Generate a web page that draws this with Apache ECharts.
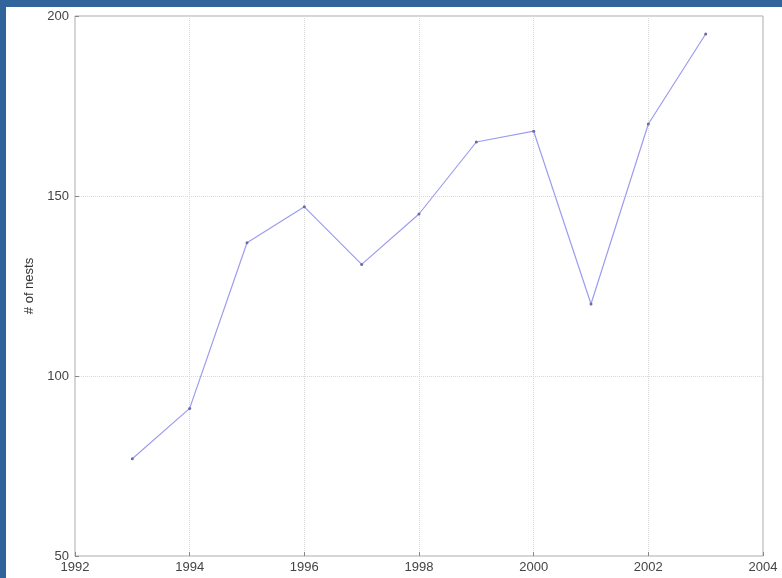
<!DOCTYPE html>
<html>
<head>
<meta charset="utf-8">
<script src="https://cdn.jsdelivr.net/npm/echarts@6/dist/echarts.min.js"></script>
<style>
  html, body { margin: 0; padding: 0; background: #30649a; width: 782px; height: 578px; overflow: hidden; }
  #chart { position: absolute; left: 6px; top: 7px; width: 776px; height: 571px; background: #fff; }
</style>
</head>
<body>
<div id="chart"></div>
<script>
// nests per year
var years = [1993, 1994, 1995, 1996, 1997, 1998, 1999, 2000, 2001, 2002, 2003]
var nests = [77, 91, 137, 147, 131, 145, 165, 168, 120, 170, 195]

var chart = echarts.init(document.getElementById('chart'))

var axisFont = { fontFamily: 'Liberation Sans, Arial', fontSize: 13, color: '#444' }

chart.setOption({
  animation: false,
  grid: {
    left: 69,
    top: 9,
    right: 19,
    bottom: 22,
    show: true,
    borderColor: '#aaa',
    borderWidth: 1
  },
  xAxis: {
    type: 'value',
    min: 1992,
    max: 2004,
    interval: 2,
    axisLine: { show: false },
    axisTick: { show: true, inside: true, length: 4, lineStyle: { color: '#888' } },
    axisLabel: Object.assign({ margin: 5, formatter: function (v) { return String(v) } }, axisFont),
    splitLine: { show: true, lineStyle: { type: 'dotted', color: '#d8d8d8' } }
  },
  yAxis: {
    type: 'value',
    min: 50,
    max: 200,
    interval: 50,
    name: '# of nests',
    nameLocation: 'middle',
    nameGap: 38,
    nameTextStyle: { fontFamily: 'Liberation Sans, Arial', fontSize: 13, color: '#333' },
    axisLine: { show: false },
    axisTick: { show: true, inside: true, length: 4, lineStyle: { color: '#888' } },
    axisLabel: Object.assign({ margin: 6 }, axisFont),
    splitLine: { show: true, lineStyle: { type: 'dotted', color: '#d8d8d8' } }
  },
  series: [{
    type: 'line',
    data: years.map(function (y, i) { return [y, nests[i]] }),
    symbol: 'circle',
    symbolSize: 3,
    itemStyle: { color: '#6a6aa8' },
    lineStyle: { color: '#9c9cf0', width: 1.2 }
  }]
})
</script>
</body>
</html>
